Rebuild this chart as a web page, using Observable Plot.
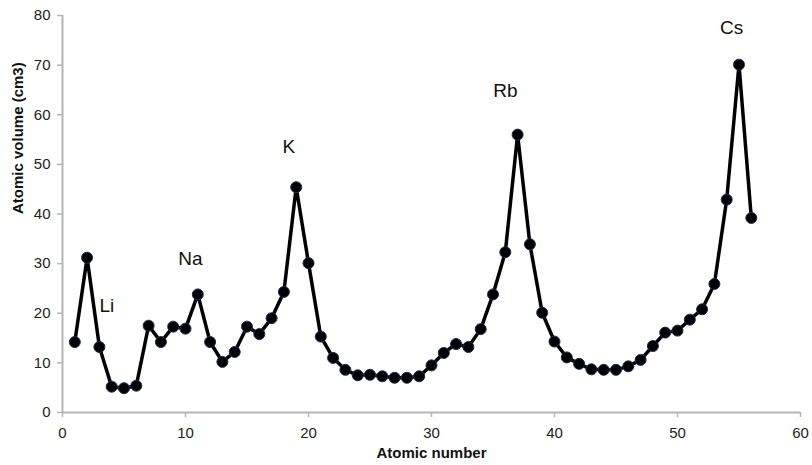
<!DOCTYPE html>
<html>
<head>
<meta charset="utf-8">
<script src="https://cdn.jsdelivr.net/npm/d3@7"></script>
<script src="https://cdn.jsdelivr.net/npm/@observablehq/plot@0.6"></script>
<style>
  html, body { margin: 0; padding: 0; background: #fff; }
  #chart { width: 812px; height: 465px; }
</style>
</head>
<body>
<div id="chart"></div>
<script>
const atomicNumbers = d3.range(1, 57);
const atomicVolumes = [
  14.2, 31.2, 13.2, 5.2, 4.9, 5.4, 17.5, 14.2, 17.3, 16.9,
  23.8, 14.2, 10.2, 12.2, 17.3, 15.8, 19.0, 24.3, 45.4, 30.1,
  15.3, 11.0, 8.6, 7.5, 7.6, 7.3, 7.0, 7.0, 7.3, 9.5,
  12.0, 13.8, 13.2, 16.8, 23.8, 32.3, 56.0, 33.9, 20.1, 14.3,
  11.1, 9.8, 8.7, 8.6, 8.6, 9.3, 10.6, 13.4, 16.1, 16.5,
  18.7, 20.8, 25.9, 42.9, 70.1, 39.2
];
const elementLabels = ["Li", "Na", "K", "Rb", "Cs"];
const labelX = [3.6, 10.4, 18.4, 36.0, 54.4];
const labelY = [21.5, 31.0, 53.5, 64.8, 77.5];
const xTicks = [0, 10, 20, 30, 40, 50, 60];
const yTicks = [0, 10, 20, 30, 40, 50, 60, 70, 80];
const xTitle = "Atomic number";
const yTitle = "Atomic volume (cm3)";

const data = atomicNumbers.map((n, i) => ({n, v: atomicVolumes[i]}));
const labels = elementLabels.map((t, i) => ({t, x: labelX[i], y: labelY[i]}));

const chart = Plot.plot({
  width: 812,
  height: 465,
  marginLeft: 62,
  marginRight: 12,
  marginTop: 15,
  marginBottom: 53,
  style: {fontFamily: "'Liberation Sans', Arial, sans-serif", background: "#fff"},
  x: {domain: [0, 60], axis: null},
  y: {domain: [0, 80], axis: null},
  marks: [
    Plot.axisX({ticks: xTicks, tickSize: 5, tickPadding: 10, stroke: "#b5b5b5", strokeWidth: 1.5, fill: "#222", fontSize: 15, label: null}),
    Plot.axisY({ticks: yTicks, tickSize: 5, tickPadding: 7, stroke: "#b5b5b5", strokeWidth: 1.5, fill: "#222", fontSize: 15, label: null}),
    Plot.ruleY([0], {stroke: "#b5b5b5", strokeWidth: 2}),
    Plot.ruleX([0], {stroke: "#b5b5b5", strokeWidth: 2}),
    Plot.line(data, {x: "n", y: "v", stroke: "#000", strokeWidth: 3.5}),
    Plot.dot(data, {x: "n", y: "v", r: 5.5, fill: "#000", stroke: "#1c2d55", strokeWidth: 1}),
    Plot.text(labels, {x: "x", y: "y", text: "t", fontSize: 19, fill: "#111"}),
    Plot.text([xTitle], {frameAnchor: "bottom", dy: 45, fontSize: 15, fontWeight: "bold", fill: "#111"}),
    Plot.text([yTitle], {frameAnchor: "left", dx: -44, rotate: -90, fontSize: 15, fontWeight: "bold", fill: "#111"})
  ]
});
document.getElementById("chart").appendChild(chart);
</script>
</body>
</html>
